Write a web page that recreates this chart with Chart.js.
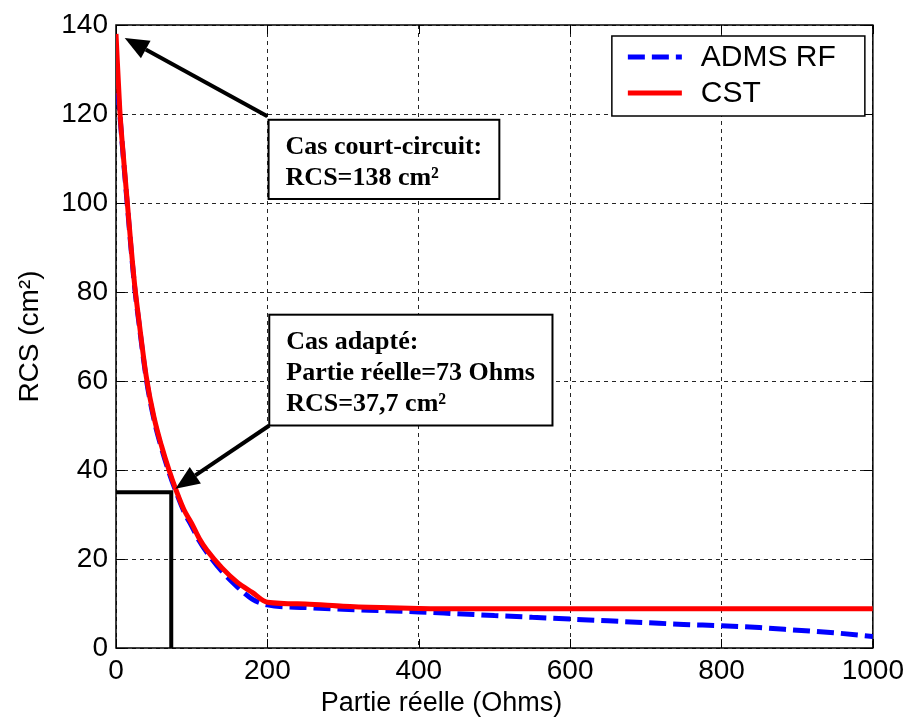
<!DOCTYPE html>
<html>
<head>
<meta charset="utf-8">
<script src="https://cdn.jsdelivr.net/npm/chart.js@4.4.1/dist/chart.umd.min.js"></script>
<style>
  html, body { margin: 0; padding: 0; background: #fff; }
</style>
</head>
<body>
<canvas id="myChart" width="910" height="717"></canvas>
<script>
'use strict';

// valeurs
const partieReelle = [0, 5, 10, 15, 20, 25, 30, 40, 50, 60, 70, 80, 90, 100, 110, 120, 140, 160, 180, 200,
  250, 300, 350, 400, 450, 500, 550, 600, 650, 700, 750, 800, 850, 900, 950, 1000];
const rcsCst = [138, 121, 110, 100, 90, 81, 74, 61, 52, 45.5, 40, 35.2, 31, 28, 24.6, 22, 18, 14.8, 12.5, 10.3,
  9.9, 9.4, 9.1, 8.9, 8.8, 8.8, 8.8, 8.8, 8.8, 8.8, 8.8, 8.8, 8.8, 8.8, 8.8, 8.8];
const rcsAdms = [130, 120, 109.5, 99.5, 89.5, 80.5, 73.5, 60.5, 51.5, 45, 39.5, 34.8, 30.6, 27.4, 24.1, 21.5, 17.2, 13.8, 11, 9.7,
  9.1, 8.7, 8.4, 8.1, 7.7, 7.3, 6.9, 6.5, 6.1, 5.7, 5.3, 5.0, 4.6, 4.0, 3.4, 2.6];

const xTicks = [0, 200, 400, 600, 800, 1000];
const yTicks = [0, 20, 40, 60, 80, 100, 120, 140];

const seriesNames = ['ADMS RF', 'CST'];
const noteCourtCircuit = ['Cas court-circuit:', 'RCS=138 cm²'];
const noteAdapte = ['Cas adapté:', 'Partie réelle=73 Ohms', 'RCS=37,7 cm²'];
const pointAdapte = [73, 35];

const sansFont = '"Liberation Sans", Arial, sans-serif';
const serifFont = '"Liberation Serif", "Times New Roman", serif';

function toPoints(xs, ys) {
  return xs.map((x, i) => ({ x: x, y: ys[i] }));
}

function arrow(ctx, x1, y1, x2, y2) {
  const ang = Math.atan2(y2 - y1, x2 - x1);
  const len = 24, half = 10;
  const bx = x2 - len * Math.cos(ang), by = y2 - len * Math.sin(ang);
  ctx.beginPath();
  ctx.moveTo(x1, y1);
  ctx.lineTo(bx, by);
  ctx.lineWidth = 4;
  ctx.strokeStyle = '#000';
  ctx.stroke();
  ctx.beginPath();
  ctx.moveTo(x2, y2);
  ctx.lineTo(bx + half * Math.sin(ang), by - half * Math.cos(ang));
  ctx.lineTo(bx - half * Math.sin(ang), by + half * Math.cos(ang));
  ctx.closePath();
  ctx.fillStyle = '#000';
  ctx.fill();
}

function noteBox(ctx, x1, y1, x2, y2, lines) {
  ctx.fillStyle = '#fff';
  ctx.fillRect(x1, y1, x2 - x1, y2 - y1);
  ctx.lineWidth = 2;
  ctx.strokeStyle = '#000';
  ctx.strokeRect(x1, y1, x2 - x1, y2 - y1);
  ctx.fillStyle = '#000';
  ctx.font = 'bold 26px ' + serifFont;
  ctx.textAlign = 'left';
  ctx.textBaseline = 'alphabetic';
  lines.forEach((t, i) => ctx.fillText(t, x1 + 17, y1 + 34 + i * 31));
}

const decorations = {
  id: 'decorations',
  beforeDraw(chart) {
    const ctx = chart.ctx;
    ctx.save();
    ctx.fillStyle = '#fff';
    ctx.fillRect(0, 0, chart.width, chart.height);
    ctx.restore();
  },
  beforeDatasetsDraw(chart) {
    const ctx = chart.ctx;
    const ca = chart.chartArea;
    const xs = chart.scales.x, ys = chart.scales.y;
    ctx.save();
    // petits traits de graduation vers l'intérieur
    ctx.strokeStyle = '#000';
    ctx.lineWidth = 1;
    ctx.beginPath();
    xTicks.forEach(v => {
      const px = Math.round(xs.getPixelForValue(v)) + 0.5;
      ctx.moveTo(px, ca.bottom); ctx.lineTo(px, ca.bottom - 9);
      ctx.moveTo(px, ca.top); ctx.lineTo(px, ca.top + 9);
    });
    yTicks.forEach(v => {
      const py = Math.round(ys.getPixelForValue(v)) + 0.5;
      ctx.moveTo(ca.left, py); ctx.lineTo(ca.left + 9, py);
      ctx.moveTo(ca.right, py); ctx.lineTo(ca.right - 9, py);
    });
    ctx.stroke();
    // cadre
    ctx.lineWidth = 1.5;
    ctx.strokeRect(ca.left, ca.top, ca.right - ca.left, ca.bottom - ca.top);
    // repère du cas adapté
    const mx = xs.getPixelForValue(pointAdapte[0]);
    const my = ys.getPixelForValue(pointAdapte[1]);
    ctx.lineWidth = 4;
    ctx.beginPath();
    ctx.moveTo(ca.left, my);
    ctx.lineTo(mx, my);
    ctx.lineTo(mx, ca.bottom);
    ctx.stroke();
    ctx.restore();
  },
  afterDatasetsDraw(chart) {
    const ctx = chart.ctx;
    const ca = chart.chartArea;
    const xs = chart.scales.x, ys = chart.scales.y;
    const X = v => xs.getPixelForValue(v), Y = v => ys.getPixelForValue(v);
    ctx.save();

    arrow(ctx, X(200), Y(119.5), X(11.5), Y(137.1));
    noteBox(ctx, X(201.6), Y(118.7), X(506.5), Y(100.9), noteCourtCircuit);

    arrow(ctx, X(202.6), Y(50), X(78.5), Y(35.8));
    noteBox(ctx, X(202.5), Y(74.9), X(576.7), Y(50), noteAdapte);

    // légende
    const lw = 253, lh = 80;
    const lx = ca.right - 8 - lw, ly = ca.top + 11;
    ctx.fillStyle = '#fff';
    ctx.fillRect(lx, ly, lw, lh);
    ctx.lineWidth = 1.5;
    ctx.strokeStyle = '#000';
    ctx.strokeRect(lx, ly, lw, lh);
    chart.data.datasets.forEach((ds, i) => {
      const ry = ly + 21 + i * 36;
      ctx.beginPath();
      ctx.setLineDash(ds.borderDash || []);
      ctx.strokeStyle = ds.borderColor;
      ctx.lineWidth = 5;
      ctx.moveTo(lx + 16, ry);
      ctx.lineTo(lx + 70, ry);
      ctx.stroke();
      ctx.setLineDash([]);
      ctx.fillStyle = '#000';
      ctx.font = '30px ' + sansFont;
      ctx.textAlign = 'left';
      ctx.textBaseline = 'middle';
      ctx.fillText(ds.label, lx + 89, ry + 1);
    });

    // titre de l'axe x
    ctx.fillStyle = '#000';
    ctx.font = '27px ' + sansFont;
    ctx.textAlign = 'center';
    ctx.textBaseline = 'middle';
    ctx.fillText('Partie réelle (Ohms)', ca.left + (ca.right - ca.left) * 0.43, 704);
    ctx.restore();
  }
};

const data = {
  datasets: [
    {
      label: seriesNames[0],
      data: toPoints(partieReelle, rcsAdms),
      borderColor: '#0000ff',
      borderWidth: 5,
      borderDash: [17, 7],
      pointRadius: 0,
      cubicInterpolationMode: 'monotone',
      order: 2
    },
    {
      label: seriesNames[1],
      data: toPoints(partieReelle, rcsCst),
      borderColor: '#ff0000',
      borderWidth: 5,
      pointRadius: 0,
      cubicInterpolationMode: 'monotone',
      order: 1
    }
  ]
};

const options = {
  responsive: false,
  animation: false,
  layout: { padding: { left: 0, top: 25, right: 35, bottom: 0 } },
  plugins: {
    legend: { display: false },
    tooltip: { enabled: false }
  },
  scales: {
    x: {
      type: 'linear',
      min: 0,
      max: 1000,
      afterBuildTicks: (scale) => { scale.ticks = xTicks.map(v => ({ value: v })); },
      afterFit: (scale) => { scale.height = 69; },
      grid: { color: 'rgba(0,0,0,0.85)', lineWidth: 1, drawTicks: false },
      border: { display: false, dash: [4, 4] },
      ticks: {
        color: '#000', padding: 6, maxRotation: 0,
        font: { family: sansFont, size: 28 },
        callback: (val) => String(val)
      }
    },
    y: {
      type: 'linear',
      min: 0,
      max: 140,
      afterBuildTicks: (scale) => { scale.ticks = yTicks.map(v => ({ value: v })); },
      afterFit: (scale) => { scale.width = 116; },
      grid: { color: 'rgba(0,0,0,0.85)', lineWidth: 1, drawTicks: false },
      border: { display: false, dash: [4, 4] },
      ticks: {
        color: '#000', padding: 8,
        font: { family: sansFont, size: 28 },
        callback: (val) => String(val)
      },
      title: {
        display: true,
        text: 'RCS (cm²)',
        color: '#000',
        font: { family: sansFont, size: 28, lineHeight: 1 },
        padding: { top: 16, bottom: 0 }
      }
    }
  }
};

const chart = new Chart(document.getElementById('myChart'), {
  type: 'line',
  data: data,
  options: options,
  plugins: [decorations]
});
</script>
</body>
</html>
